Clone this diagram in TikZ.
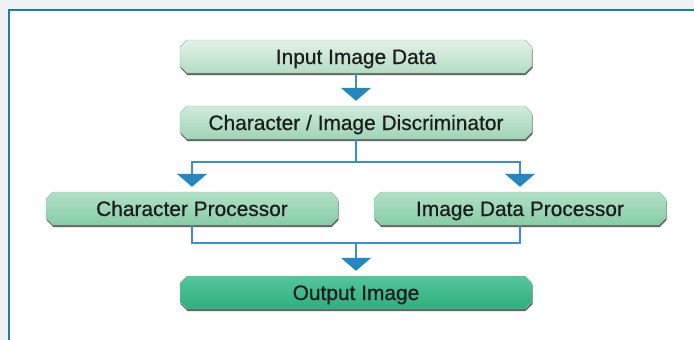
\documentclass[tikz,border=0pt]{standalone}
\usepackage{fontspec}
\setmainfont{Liberation Sans}
\newfontface\boxfont{Liberation Sans}[FakeBold=0.6]
\usetikzlibrary{shapes.misc,arrows.meta,shadows}
\definecolor{bgout}{HTML}{EEF2F5}
\definecolor{frameblue}{HTML}{1E7CA8}
\definecolor{lineblue}{HTML}{3A90C4}
\definecolor{tipblue}{HTML}{2488BF}
\definecolor{txt}{HTML}{1C1C1C}
\definecolor{inT}{HTML}{E2F2E7}
\definecolor{inB}{HTML}{B5DCC3}
\definecolor{diT}{HTML}{D0EBDA}
\definecolor{diB}{HTML}{A0D4B6}
\definecolor{prT}{HTML}{B2E1C6}
\definecolor{prB}{HTML}{86CDA6}
\definecolor{ouT}{HTML}{55C69C}
\definecolor{ouB}{HTML}{2DAF7E}
\definecolor{edge}{HTML}{8FBFA3}
\begin{document}
\begin{tikzpicture}[x=1pt,y=-1pt,
  boxbase/.style={shape=chamfered rectangle, chamfered rectangle xsep=3.5pt,
    chamfered rectangle ysep=3.5pt, inner sep=0pt, minimum height=33pt,
    draw=edge, line width=0.4pt, text=txt, text height=15pt, text depth=0pt,
    font=\boxfont\fontsize{20.9}{24}\selectfont,
    drop shadow={shadow xshift=0.5pt, shadow yshift=-2.2pt, fill=black!62, opacity=1}},
  widebox/.style={boxbase, minimum width=352pt},
  procbox/.style={boxbase, minimum width=292pt},
  conn/.style={draw=lineblue, line width=1.5pt},
  arr/.style={conn, -{Triangle[width=30pt,length=13pt,color=tipblue]}, shorten >=5pt}
]
\useasboundingbox (0,0) rectangle (694,340);
\fill[bgout] (0,0) rectangle (694,340);
\fill[white] (9,10) rectangle (694,340);
\draw[frameblue, line width=2pt] (9,340) -- (9,10) -- (694,10);

\node[widebox, top color=inT, bottom color=inB] (in) at (356,56.5) {Input Image Data};
\node[widebox, top color=diT, bottom color=diB] (disc) at (356,122.5) {Character / Image Discriminator};
\node[procbox, top color=prT, bottom color=prB] (cp) at (192,208.5) {Character Processor};
\node[procbox, top color=prT, bottom color=prB] (ip) at (520,208.5) {Image Data Processor};
\node[widebox, top color=ouT, bottom color=ouB] (out) at (356,292.5) {Output Image};

\coordinate (split) at (356,162);
\coordinate (merge) at (356,243);

\draw[arr] (in.south) -- (disc.north);
\draw[conn] (disc.south) -- (split);
\draw[arr] (split) -| (cp.north);
\draw[arr] (split) -| (ip.north);
\draw[conn] (cp.south) |- (merge);
\draw[conn] (ip.south) |- (merge);
\draw[arr] (merge) -- (out.north);
\end{tikzpicture}
\end{document}
